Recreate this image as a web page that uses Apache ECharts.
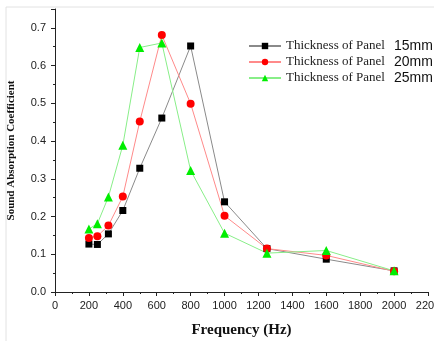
<!DOCTYPE html>
<html>
<head>
<meta charset="utf-8">
<script src="https://cdn.jsdelivr.net/npm/echarts@6/dist/echarts.min.js"></script>
<style>
  html, body { margin: 0; padding: 0; background: #fff; }
  #chart { width: 434px; height: 341px; }
</style>
</head>
<body>
<div id="chart"></div>
<script>
// frequencies (Hz) and absorption coefficient per panel thickness
var freqs = [200, 250, 315, 400, 500, 630, 800, 1000, 1250, 1600, 2000];
var panel15 = [0.127, 0.126, 0.154, 0.216, 0.328, 0.461, 0.652, 0.239, 0.115, 0.087, 0.056];
var panel20 = [0.143, 0.148, 0.176, 0.253, 0.452, 0.681, 0.499, 0.202, 0.115, 0.097, 0.055];
var panel25 = [0.167, 0.181, 0.252, 0.389, 0.648, 0.660, 0.322, 0.156, 0.103, 0.110, 0.056];
var thickness = ['15mm', '20mm', '25mm'];

const pairs = (ys) => freqs.map((f, i) => [f, ys[i]]);

var chart = echarts.init(document.getElementById('chart'));

const mkSeries = (name, ys, lineColor, markColor, symbol, size) => ({
  name: name,
  type: 'line',
  data: pairs(ys),
  symbol: symbol,
  symbolSize: size,
  showAllSymbol: true,
  z: 3,
  lineStyle: { color: lineColor, width: 1 },
  itemStyle: { color: markColor, borderWidth: 0 },
  emphasis: { disabled: true }
});

chart.setOption({
  animation: false,
  grid: { left: 55, right: 6, top: 9, bottom: 49, containLabel: false, outerBoundsMode: 'none' },
  legend: {
    orient: 'vertical',
    left: 248,
    top: 39,
    padding: 0,
    itemWidth: 32,
    itemHeight: 8,
    itemGap: 2,
    data: thickness,
    formatter: name => '{a|Thickness of Panel}{b|' + name + '}',
    textStyle: {
      rich: {
        a: { fontFamily: 'Liberation Serif', fontSize: 13, color: '#222', width: 108 },
        b: { fontFamily: 'Liberation Sans', fontSize: 14, color: '#111' }
      }
    }
  },
  xAxis: {
    type: 'value',
    min: 0,
    max: 2200,
    interval: 200,
    name: 'Frequency (Hz)',
    nameLocation: 'middle',
    nameGap: 31,
    nameTextStyle: { fontFamily: 'Liberation Serif', fontWeight: 'bold', fontSize: 15, color: '#111' },
    axisLine: { lineStyle: { color: '#222', width: 1 } },
    axisTick: { length: 4, lineStyle: { color: '#222' } },
    minorTick: { show: true, splitNumber: 2, length: 2, lineStyle: { color: '#222' } },
    splitLine: { show: false },
    axisLabel: { fontFamily: 'Liberation Sans', fontSize: 11, color: '#222', margin: 8, formatter: v => String(v) }
  },
  yAxis: {
    type: 'value',
    min: 0,
    max: 0.75,
    interval: 0.1,
    name: 'Sound Absorption Coefficient',
    nameLocation: 'middle',
    nameGap: 38,
    nameTextStyle: { fontFamily: 'Liberation Serif', fontWeight: 'bold', fontSize: 11, color: '#111' },
    axisLine: { show: true, lineStyle: { color: '#222', width: 1 } },
    axisTick: { show: true, length: 4, lineStyle: { color: '#222' } },
    minorTick: { show: true, splitNumber: 2, length: 2, lineStyle: { color: '#222' } },
    splitLine: { show: false },
    axisLabel: {
      fontFamily: 'Liberation Sans', fontSize: 11, color: '#222', margin: 9,
      showMaxLabel: false,
      formatter: v => v.toFixed(1)
    }
  },
  graphic: [
    { type: 'line', shape: { x1: 6, y1: 7, x2: 434, y2: 7 }, style: { stroke: '#e2e2e2', lineWidth: 1 } },
    { type: 'line', shape: { x1: 6, y1: 7, x2: 6, y2: 341 }, style: { stroke: '#e2e2e2', lineWidth: 1 } }
  ],
  series: [
    mkSeries(thickness[0], panel15, '#8a8a8a', '#000000', 'rect', 7),
    mkSeries(thickness[1], panel20, '#ff8a8a', '#ff0000', 'circle', 8),
    mkSeries(thickness[2], panel25, '#88ee88', '#00ee00', 'triangle', 9)
  ]
});
</script>
</body>
</html>
